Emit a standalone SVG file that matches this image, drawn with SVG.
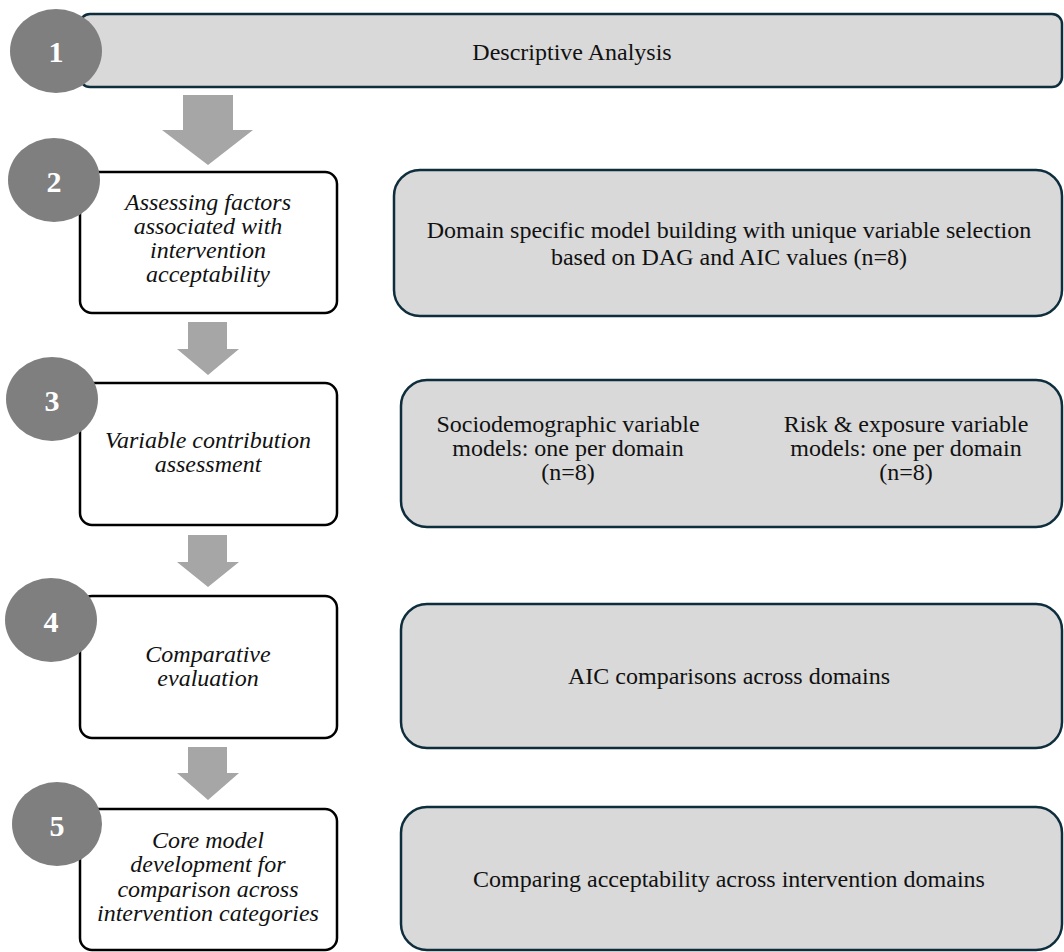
<svg xmlns="http://www.w3.org/2000/svg" width="1064" height="952" viewBox="0 0 1064 952">
<style>
  .step { fill: #ffffff; stroke: #000000; stroke-width: 2.5; }
  .panel { fill: #d9d9d9; stroke: #0e2e3d; stroke-width: 2.5; }
  .badge { fill: #7f7f7f; }
  .num { font-family: "Liberation Serif", "Times New Roman", serif; font-size: 30px; font-weight: bold; fill: #ffffff; text-anchor: middle; }
  .lbl { font-family: "Liberation Serif", "Times New Roman", serif; font-size: 24px; fill: #111111; text-anchor: middle; }
  .it { font-style: italic; }
  .arrow { fill: #a6a6a6; }
</style>
<rect width="1064" height="952" fill="#ffffff"/>

<g id="connectors">
  <polygon class="arrow" points="183,95 233,95 233,130 253,130 208,165 162,130 183,130"/>
  <polygon class="arrow" points="188,322 227,322 227,349 239,349 208,375 177,349 188,349"/>
  <polygon class="arrow" points="188,535 227,535 227,562 239,562 208,587 177,562 188,562"/>
  <polygon class="arrow" points="188,747 227,747 227,773 239,773 208,800 177,773 188,773"/>
</g>

<g id="step1">
  <rect class="panel" x="80" y="14" width="982" height="73" rx="10"/>
  <text class="lbl" x="572" y="60">Descriptive Analysis</text>
  <ellipse class="badge" cx="56" cy="51" rx="46" ry="42"/>
  <text class="num" x="56" y="62">1</text>
</g>

<g id="step2">
  <rect class="step" x="80" y="172" width="257" height="141" rx="12"/>
  <text class="lbl it" x="208" y="210">Assessing factors</text>
  <text class="lbl it" x="208" y="234">associated with</text>
  <text class="lbl it" x="208" y="258">intervention</text>
  <text class="lbl it" x="208" y="282">acceptability</text>
  <ellipse class="badge" cx="54" cy="180" rx="46" ry="42"/>
  <text class="num" x="54" y="192">2</text>
</g>

<g id="step2-detail">
  <rect class="panel" x="394" y="170" width="668" height="146" rx="26"/>
  <text class="lbl" x="729" y="238">Domain specific model building with unique variable selection</text>
  <text class="lbl" x="729" y="265">based on DAG and AIC values (n=8)</text>
</g>

<g id="step3">
  <rect class="step" x="80" y="383" width="257" height="142" rx="12"/>
  <text class="lbl it" x="208" y="448">Variable contribution</text>
  <text class="lbl it" x="208" y="472">assessment</text>
  <ellipse class="badge" cx="52" cy="399" rx="46" ry="42"/>
  <text class="num" x="52" y="411">3</text>
</g>

<g id="step3-detail">
  <rect class="panel" x="401" y="380" width="661" height="147" rx="26"/>
  <text class="lbl" x="568" y="432">Sociodemographic variable</text>
  <text class="lbl" x="568" y="456">models: one per domain</text>
  <text class="lbl" x="568" y="480">(n=8)</text>
  <text class="lbl" x="906" y="432">Risk &amp; exposure variable</text>
  <text class="lbl" x="906" y="456">models: one per domain</text>
  <text class="lbl" x="906" y="480">(n=8)</text>
</g>

<g id="step4">
  <rect class="step" x="80" y="596" width="257" height="142" rx="12"/>
  <text class="lbl it" x="208" y="662">Comparative</text>
  <text class="lbl it" x="208" y="686">evaluation</text>
  <ellipse class="badge" cx="51" cy="620" rx="46" ry="42"/>
  <text class="num" x="51" y="632">4</text>
</g>

<g id="step4-detail">
  <rect class="panel" x="401" y="604" width="661" height="144" rx="26"/>
  <text class="lbl" x="729" y="684">AIC comparisons across domains</text>
</g>

<g id="step5">
  <rect class="step" x="80" y="809" width="257" height="141" rx="12"/>
  <text class="lbl it" x="208" y="848">Core model</text>
  <text class="lbl it" x="208" y="872">development for</text>
  <text class="lbl it" x="208" y="897">comparison across</text>
  <text class="lbl it" x="208" y="921">intervention categories</text>
  <ellipse class="badge" cx="57" cy="824" rx="45" ry="42"/>
  <text class="num" x="57" y="836">5</text>
</g>

<g id="step5-detail">
  <rect class="panel" x="401" y="807" width="661" height="143" rx="26"/>
  <text class="lbl" x="729" y="887">Comparing acceptability across intervention domains</text>
</g>
</svg>
